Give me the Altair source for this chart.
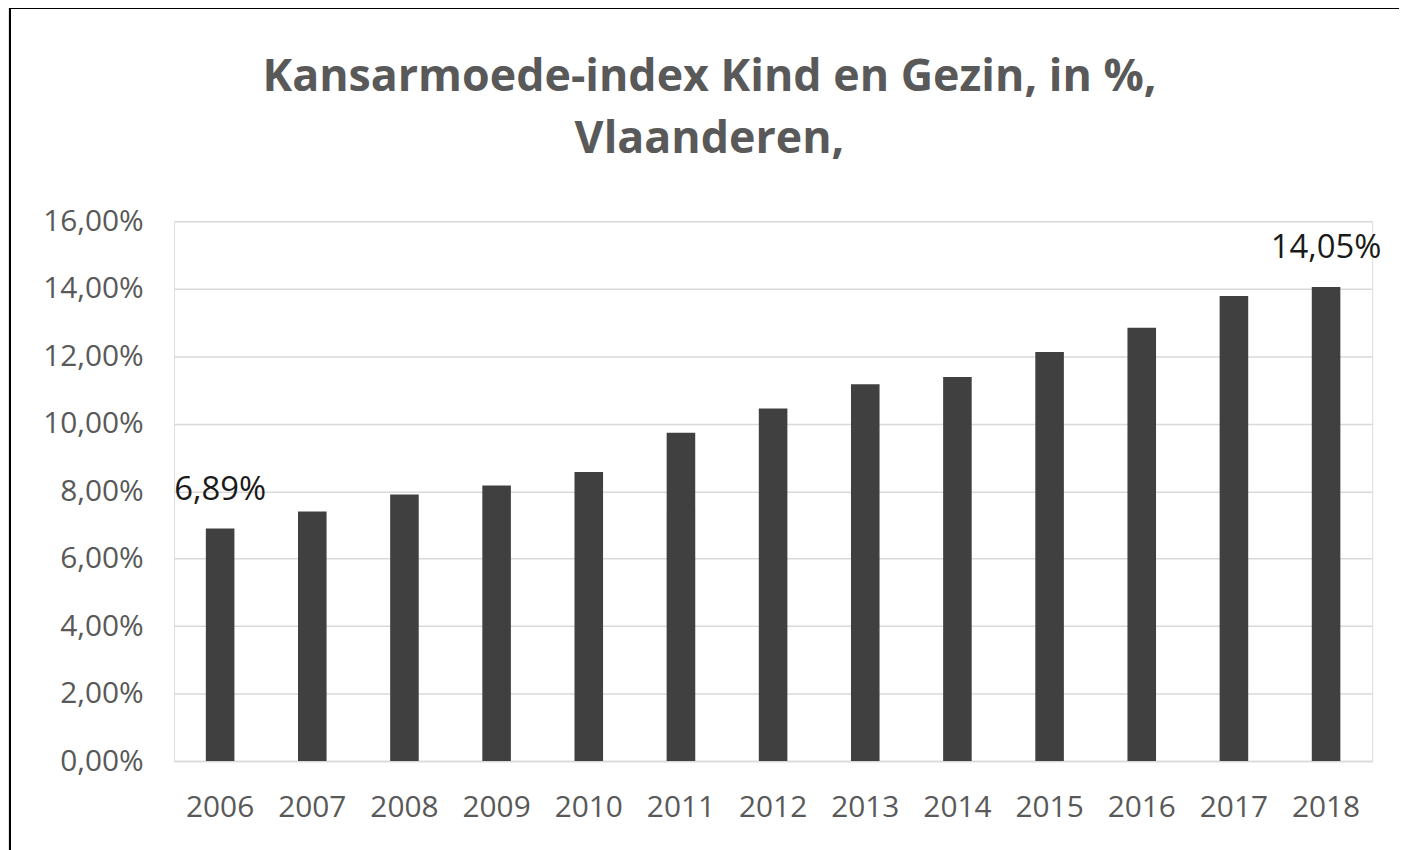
import altair as alt
import pandas as pd

years = ["2006", "2007", "2008", "2009", "2010", "2011", "2012",
         "2013", "2014", "2015", "2016", "2017", "2018"]
values = [6.89, 7.40, 7.90, 8.17, 8.57, 9.73, 10.45,
          11.17, 11.38, 12.12, 12.84, 13.78, 14.05]
labeled_years = ["2006", "2018"]
title_lines = ["Kansarmoede-index Kind en Gezin, in %,", "Vlaanderen,"]

df = pd.DataFrame({"year": years, "value": values})
df["label"] = [
    (f"{v:.2f}".replace(".", ",") + "%") if y in labeled_years else ""
    for y, v in zip(years, values)
]

FONT = "Open Sans"
GREY = "#595959"

x = alt.X("year:N", sort=years, title=None,
          scale=alt.Scale(paddingInner=0.69, paddingOuter=0.345),
          axis=alt.Axis(labelAngle=0, ticks=False, domain=True,
                        domainColor="#d9d9d9", domainWidth=1.5,
                        labelPadding=32, labelFontSize=30,
                        labelColor=GREY, labelFont=FONT, grid=False))
y = alt.Y("value:Q", title=None,
          scale=alt.Scale(domain=[0, 16], nice=False),
          axis=alt.Axis(values=[0, 2, 4, 6, 8, 10, 12, 14, 16],
                        labelExpr="replace(format(datum.value, '.2f'), '.', ',') + '%'",
                        ticks=False, domain=False, grid=True,
                        gridColor="#d9d9d9", gridWidth=1.5,
                        labelPadding=31, labelFontSize=30,
                        labelColor=GREY, labelFont=FONT))

base = alt.Chart(df)
bars = base.mark_bar(color="#404040").encode(x=x, y=y)
labels = base.mark_text(baseline="bottom", dy=-22, fontSize=33,
                        font=FONT, color="#1a1a1a").encode(
    x=alt.X("year:N", sort=years), y="value:Q", text="label:N")

frame_top = alt.Chart(df).mark_rule(color="#000000", strokeWidth=2).encode(
    x=alt.value(-165), x2=alt.value(1240), y=alt.value(-215))
frame_left = alt.Chart(df).mark_rule(color="#000000", strokeWidth=2).encode(
    x=alt.value(-165), y=alt.value(-215), y2=alt.value(640))

chart = alt.layer(bars, labels, frame_top, frame_left).properties(
    width=1205, height=543,
    title=alt.TitleParams(text=title_lines, anchor="middle", dx=-64,
                          fontSize=45, font=FONT, fontWeight="bold",
                          color=GREY, lineHeight=62, offset=-156),
    autosize=alt.AutoSizeParams(type="none"),
    padding={"left": 167, "top": 212, "right": 27, "bottom": 87},
).configure_view(stroke=None).configure(background="white")

chart.save("out.html", embed_options={"renderer": "svg", "actions": False})
